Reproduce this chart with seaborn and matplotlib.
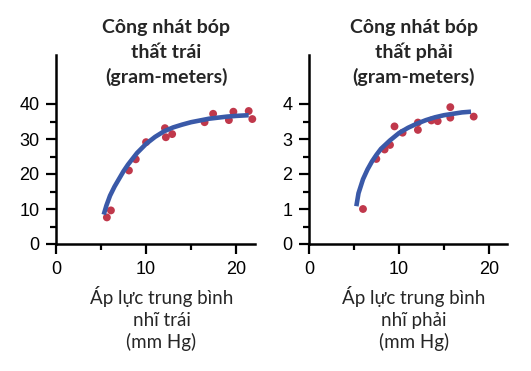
import matplotlib
matplotlib.use("Agg")
import matplotlib.pyplot as plt
import seaborn as sns
from matplotlib.ticker import MultipleLocator, FuncFormatter

sns.set_style("ticks")
plt.rcParams['font.family'] = ['Liberation Sans', 'DejaVu Sans']

# Left ventricle data
left_x = [5.65, 6.1, 8.1, 8.86, 10.0, 12.1, 12.2, 12.9, 16.5, 17.45, 19.2, 19.7, 21.4, 21.8]
left_y = [7.6, 9.6, 21.0, 24.2, 29.1, 33.1, 30.5, 31.4, 34.8, 37.2, 35.4, 37.8, 38.0, 35.7]
left_curve_x = [5.3, 5.6, 6.0, 6.5, 7.0, 7.5, 8.0, 9.0, 10.0, 11.0, 12.0, 13.0, 14.0, 15.0, 16.0, 17.0, 18.0, 19.0, 20.0, 21.4]
left_curve_y = [8.4, 11.0, 13.8, 16.4, 18.6, 20.8, 22.7, 26.0, 28.6, 30.6, 32.2, 33.3, 34.1, 34.8, 35.3, 35.8, 36.1, 36.4, 36.6, 36.8]

# Right ventricle data
right_x = [6.0, 7.48, 8.4, 9.0, 9.5, 10.4, 12.1, 12.1, 13.6, 14.3, 15.7, 15.7, 18.3]
right_y = [1.0, 2.43, 2.70, 2.83, 3.36, 3.18, 3.47, 3.26, 3.53, 3.51, 3.91, 3.61, 3.64]
right_curve_x = [5.26, 5.5, 6.0, 6.5, 7.0, 7.5, 8.0, 9.0, 10.0, 11.0, 12.0, 13.0, 14.0, 15.0, 16.0, 17.0, 18.0]
right_curve_y = [1.08, 1.45, 1.85, 2.13, 2.36, 2.55, 2.72, 2.96, 3.17, 3.32, 3.44, 3.54, 3.62, 3.68, 3.72, 3.76, 3.78]

titles = [["Công nhát bóp", "thất trái", "(gram-meters)"],
          ["Công nhát bóp", "thất phải", "(gram-meters)"]]
xlabels = [["Áp lực trung bình", "nhĩ trái", "(mm Hg)"],
           ["Áp lực trung bình", "nhĩ phải", "(mm Hg)"]]

dot_color = "#c0384b"
line_color = "#3a59a8"

W, H = 531, 371
fig = plt.figure(figsize=(W / 100, H / 100), dpi=100)
ax1 = fig.add_axes([56 / W, 1 - 244 / H, 199 / W, 189 / H])
ax2 = fig.add_axes([309 / W, 1 - 244 / H, 198 / W, 189 / H])

panels = [
    (ax1, left_x, left_y, left_curve_x, left_curve_y, (0, 22.1), (0, 54), 10, 5, 40, titles[0], xlabels[0], 0.553),
    (ax2, right_x, right_y, right_curve_x, right_curve_y, (0, 22.0), (0, 5.4), 1, 0.5, 4, titles[1], xlabels[1], 0.528),
]

title_baselines = [33, 58, 83]
xlabel_baselines = [304, 326, 348]

for ax, px, py, cx, cy, xl, yl, ymaj, ymin, ytop, title, xlabel, tfrac in panels:
    sns.scatterplot(x=px, y=py, ax=ax, color=dot_color, s=32, edgecolor="none", zorder=2, clip_on=False)
    sns.lineplot(x=cx, y=cy, ax=ax, color=line_color, linewidth=3.3, zorder=3, sort=False,
                 solid_capstyle="butt", clip_on=False)
    ax.set_xlim(*xl)
    ax.set_ylim(*yl)
    ax.xaxis.set_major_locator(MultipleLocator(10))
    ax.xaxis.set_minor_locator(MultipleLocator(5))
    majors = [i * ymaj for i in range(int(round(ytop / ymaj)) + 1)]
    minors = [i * ymin for i in range(int(round(ytop / ymin)) + 1)]
    ax.set_yticks(majors)
    ax.set_yticks(minors, minor=True)
    ax.yaxis.set_major_formatter(FuncFormatter(lambda v, p: f"{int(round(v))}"))
    sns.despine(ax=ax)
    for s in ["left", "bottom"]:
        ax.spines[s].set_linewidth(1.8)
        ax.spines[s].set_color("black")
    ax.tick_params(which="major", length=7, width=1.6, labelsize=13, colors="black", pad=5)
    ax.tick_params(which="minor", length=4.5, width=1.6, colors="black")
    ax.set_xlabel("")
    ax.set_ylabel("")

    bb = ax.get_position()
    cxf = bb.x0 + bb.width * tfrac
    for line, yb in zip(title, title_baselines):
        fig.text(cxf, 1 - yb / H, line, ha="center", va="baseline", fontsize=14,
                 fontweight="bold", family=["Lato", "DejaVu Sans"])
    cxl = bb.x0 + bb.width * 0.53
    for line, yb in zip(xlabel, xlabel_baselines):
        fig.text(cxl, 1 - yb / H, line, ha="center", va="baseline", fontsize=13.5,
                 family=["Lato", "DejaVu Sans"])

fig.savefig("out.png", dpi=100)
